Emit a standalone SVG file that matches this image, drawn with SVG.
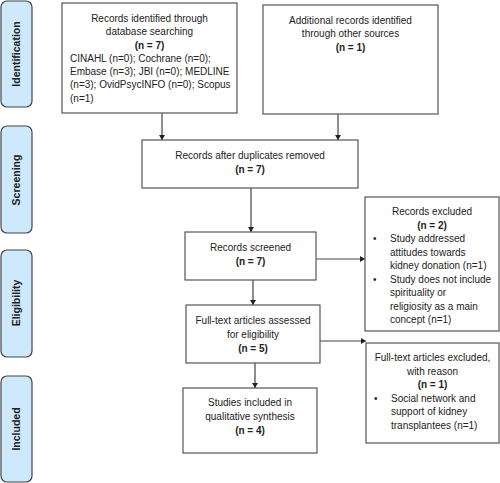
<svg xmlns="http://www.w3.org/2000/svg" width="500" height="483" viewBox="0 0 500 483">
<style>
.box{fill:#fff;stroke:#555;stroke-width:1.2}
.side{fill:#cde9fb;stroke:#444;stroke-width:1.2}
.t{font-family:"Liberation Sans",Arial,sans-serif;font-size:10px;fill:#222}
.c{text-anchor:middle}
.b{font-weight:bold}
.sl{font-family:"Liberation Sans",Arial,sans-serif;font-size:10.5px;font-weight:bold;fill:#222;text-anchor:middle}
.ln{stroke:#444;stroke-width:1.2;fill:none;marker-end:url(#ah)}
</style>
<defs>
<marker id="ah" markerWidth="6" markerHeight="6" refX="5" refY="3" orient="auto" markerUnits="userSpaceOnUse">
<path d="M0,0 L5,3 L0,6 Z" fill="#222"/>
</marker>
</defs>
<g id="side-identification">
<rect class="side" x="1" y="1" width="31" height="106" rx="6"/>
<text class="sl" transform="translate(20,54) rotate(-90)">Identification</text>
</g>
<g id="side-screening">
<rect class="side" x="1" y="126" width="31" height="107" rx="6"/>
<text class="sl" transform="translate(20,180) rotate(-90)">Screening</text>
</g>
<g id="side-eligibility">
<rect class="side" x="1" y="250" width="31" height="107" rx="6"/>
<text class="sl" transform="translate(20,303) rotate(-90)">Eligibility</text>
</g>
<g id="side-included">
<rect class="side" x="1" y="376" width="31" height="106" rx="6"/>
<text class="sl" transform="translate(20,429) rotate(-90)">Included</text>
</g>
<g id="connectors">
<line class="ln" x1="162" y1="113" x2="162" y2="140"/>
<line class="ln" x1="338" y1="114" x2="338" y2="140"/>
<line class="ln" x1="251" y1="188" x2="251" y2="232"/>
<line class="ln" x1="316" y1="259" x2="365" y2="259"/>
<line class="ln" x1="253" y1="280" x2="253" y2="305"/>
<line class="ln" x1="320" y1="341" x2="366" y2="341"/>
<line class="ln" x1="255" y1="363" x2="255" y2="388"/>
</g>
<g id="records-identified">
<rect class="box" x="62" y="3" width="175" height="110"/>
<text class="t c" x="149.5" y="22">Records identified through</text>
<text class="t c" x="149.5" y="35">database searching</text>
<text class="t c b" x="149.5" y="48.5">(n = 7)</text>
<text class="t" x="70" y="61.5">CINAHL (n=0); Cochrane (n=0);</text>
<text class="t" x="70" y="75">Embase (n=3); JBI (n=0); MEDLINE</text>
<text class="t" x="70" y="88">(n=3); OvidPsycINFO (n=0); Scopus</text>
<text class="t" x="70" y="101.5">(n=1)</text>
</g>
<g id="additional-records">
<rect class="box" x="263" y="5" width="175" height="109"/>
<text class="t c" x="350.5" y="24">Additional records identified</text>
<text class="t c" x="350.5" y="37">through other sources</text>
<text class="t c b" x="350.5" y="50.5">(n = 1)</text>
</g>
<g id="duplicates-removed">
<rect class="box" x="142" y="140" width="216" height="48"/>
<text class="t c" x="250" y="159">Records after duplicates removed</text>
<text class="t c b" x="250" y="172.5">(n = 7)</text>
</g>
<g id="records-screened">
<rect class="box" x="185" y="232" width="131" height="48"/>
<text class="t c" x="250.5" y="251">Records screened</text>
<text class="t c b" x="250.5" y="265">(n = 7)</text>
</g>
<g id="records-excluded">
<rect class="box" x="365" y="197" width="134" height="134"/>
<text class="t c" x="432" y="215">Records excluded</text>
<text class="t c b" x="432" y="228.5">(n = 2)</text>
<text class="t" x="373" y="242">•</text>
<text class="t" x="390" y="242">Study addressed</text>
<text class="t" x="390" y="255.5">attitudes towards</text>
<text class="t" x="390" y="269">kidney donation (n=1)</text>
<text class="t" x="373" y="282.5">•</text>
<text class="t" x="390" y="282.5">Study does not include</text>
<text class="t" x="390" y="296">spirituality or</text>
<text class="t" x="390" y="309.5">religiosity as a main</text>
<text class="t" x="390" y="323">concept (n=1)</text>
</g>
<g id="fulltext-assessed">
<rect class="box" x="186" y="305" width="134" height="58"/>
<text class="t c" x="253" y="324">Full-text articles assessed</text>
<text class="t c" x="253" y="338">for eligibility</text>
<text class="t c b" x="253" y="351.5">(n = 5)</text>
</g>
<g id="fulltext-excluded">
<rect class="box" x="366" y="343" width="133" height="100"/>
<text class="t c" x="432.5" y="361">Full-text articles excluded,</text>
<text class="t c" x="432.5" y="374.5">with reason</text>
<text class="t c b" x="432.5" y="388">(n = 1)</text>
<text class="t" x="374" y="401.5">•</text>
<text class="t" x="391" y="401.5">Social network and</text>
<text class="t" x="391" y="415">support of kidney</text>
<text class="t" x="391" y="428.5">transplantees (n=1)</text>
</g>
<g id="studies-included">
<rect class="box" x="183" y="388" width="134" height="65"/>
<text class="t c" x="250" y="406">Studies included in</text>
<text class="t c" x="250" y="420">qualitative synthesis</text>
<text class="t c b" x="250" y="433.5">(n = 4)</text>
</g>
</svg>
